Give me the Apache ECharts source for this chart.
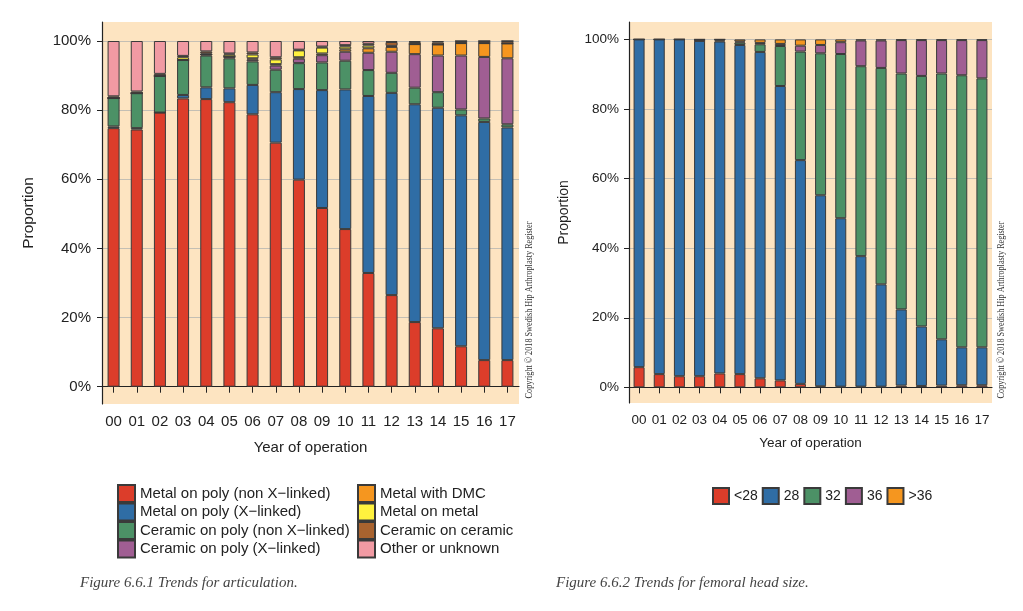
<!DOCTYPE html>
<html>
<head>
<meta charset="utf-8">
<script src="https://cdn.jsdelivr.net/npm/echarts/dist/echarts.min.js"></script>
<style>
html,body{margin:0;padding:0;background:#fff;}
#chart{width:1023px;height:611px;}
</style>
</head>
<body>
<div id="chart"></div>
<script>
// ---- Data ----
const years = ['00','01','02','03','04','05','06','07','08','09','10','11','12','13','14','15','16','17'];
const yTicks = [0, 20, 40, 60, 80, 100];

// Figure 6.6.1 – articulation (percent)
const articulationNames = ['Metal on poly (non X\u2212linked)','Metal on poly (X\u2212linked)','Ceramic on poly (non X\u2212linked)','Ceramic on poly (X\u2212linked)','Metal with DMC','Metal on metal','Ceramic on ceramic','Other or unknown'];
const metalPolyNonX   = [74.8,74.4,79.3,83.4,83.2,82.3,78.8,70.6,59.9,51.7,45.6,32.9,26.5,18.7,16.9,11.7,7.7,7.7];
const metalPolyX      = [0.5,0.4,0.0,1.0,3.4,4.0,8.5,14.6,26.2,34.1,40.4,51.2,58.5,63.0,63.8,66.8,68.9,67.3];
const ceramicPolyNonX = [8.2,10.1,10.6,10.1,9.2,8.7,6.8,6.5,7.5,8.0,8.3,7.5,5.8,4.8,4.5,1.7,1.0,0.9];
const ceramicPolyX    = [0,0,0,0,0.3,0.5,0.5,1.2,1.3,2.1,2.6,5.0,6.1,9.7,10.6,15.6,17.8,19.1];
const metalDMC        = [0,0,0,0,0,0,0.4,0.4,0.4,0.5,0.7,1.3,1.4,2.9,3.2,3.6,4.0,4.3];
const metalMetal      = [0,0,0,0.8,0.3,0.6,1.1,1.4,2.0,1.7,0.8,0.8,0.3,0,0,0,0,0];
const ceramicCeramic  = [0.5,0.5,0.6,0.4,0.6,0.3,0.6,0.6,0.2,0.3,0.4,0.5,1.1,0.6,0.6,0.6,0.6,0.7];
const otherUnknown    = [16.0,14.6,9.5,4.3,3.0,3.6,3.3,4.7,2.5,1.6,1.2,0.8,0.3,0.3,0.4,0,0,0];

// Figure 6.6.2 – femoral head size (percent)
const headNames = ['<28','28','32','36','>36'];
const headLt28 = [5.8,3.8,3.2,3.2,4.0,3.8,2.6,2.0,1.0,0.3,0.2,0.2,0.2,0.5,0.4,0.5,0.6,0.6];
const head28   = [94.2,96.2,96.8,96.4,95.4,94.6,93.8,84.6,64.3,54.9,48.4,37.5,29.4,21.9,17.1,13.3,10.9,10.9];
const head32   = [0,0,0,0,0.3,0.7,2.2,11.5,31.2,40.8,47.2,54.6,62.2,67.8,72.0,76.4,78.2,77.3];
const head36   = [0,0,0,0.4,0.3,0.3,0.4,0.6,1.7,2.4,3.4,7.4,7.9,9.6,10.3,9.6,10.1,11.0];
const headGt36 = [0,0,0,0,0,0.6,1.0,1.3,1.8,1.6,0.8,0.3,0.3,0.2,0.2,0.2,0.2,0.2];

const captions = ['Figure 6.6.1 Trends for articulation.','Figure 6.6.2 Trends for femoral head size.'];
const copyrightText = 'Copyright \u00a9 2018 Swedish Hip Arthroplasty Register';

// ---- Style ----
const C = {red:'#DC3D2A', blue:'#2F6DA5', green:'#4C9166', purple:'#A05E93', orange:'#F5961F', yellow:'#FFF23E', brown:'#A9632F', pink:'#F19AA3'};
const articulationColors = [C.red,C.blue,C.green,C.purple,C.orange,C.yellow,C.brown,C.pink];
const headColors = [C.red,C.blue,C.green,C.purple,C.orange];
const BG = '#FDE4C1';
const FONT = '"Liberation Sans", Arial, Helvetica, sans-serif';
const INK = '#222';

const articulationData = [metalPolyNonX,metalPolyX,ceramicPolyNonX,ceramicPolyX,metalDMC,metalMetal,ceramicCeramic,otherUnknown];
const headData = [headLt28,head28,head32,head36,headGt36];

function yAxisCfg(gridIndex, fs, margin, nameGap, min, max){
  return {
    type:'value', gridIndex, min, max,
    name:'Proportion', nameLocation:'middle', nameGap, nameRotate:90,
    nameTextStyle:{fontFamily:FONT, fontSize:fs+0.5, color:INK},
    axisLine:{show:true, lineStyle:{color:INK, width:1.2}},
    axisTick:{show:true, length:5, customValues:yTicks, lineStyle:{color:INK, width:1}},
    axisLabel:{customValues:yTicks, formatter:v=>v+'%', fontFamily:FONT, fontSize:fs, color:INK, margin},
    splitLine:{show:true, lineStyle:{color:'#c4bfb4', width:1}}
  };
}
function xAxisCfg(gridIndex, fs, nameGap){
  return {
    type:'category', gridIndex, data:years,
    name:'Year of operation', nameLocation:'middle', nameGap,
    nameTextStyle:{fontFamily:FONT, fontSize:fs, color:INK},
    axisLine:{show:true, lineStyle:{color:INK, width:1.2}},
    axisTick:{show:true, alignWithLabel:true, length:6, lineStyle:{color:INK, width:1}},
    axisLabel:{fontFamily:FONT, fontSize:fs, color:INK, margin:10, interval:0},
    splitLine:{show:false}
  };
}

const series = [];
articulationNames.forEach((n,i)=>{
  series.push({type:'bar', name:n, stack:'art', xAxisIndex:0, yAxisIndex:0, data:articulationData[i],
    barWidth:12, itemStyle:{color:articulationColors[i], borderColor:'#3a3a3a', borderWidth:1}});
});
headNames.forEach((n,i)=>{
  series.push({type:'bar', name:n, stack:'head', xAxisIndex:1, yAxisIndex:1, data:headData[i],
    barWidth:11, itemStyle:{color:headColors[i], borderColor:'#3a3a3a', borderWidth:1}});
});

const legendText = {fontFamily:FONT, fontSize:15, color:INK, lineHeight:16};
const option = {
  animation:false,
  backgroundColor:'#fff',
  grid:[
    {left:102, top:22, width:417, height:382, show:true, backgroundColor:BG, borderWidth:0},
    {left:629, top:22, width:363, height:381, show:true, backgroundColor:BG, borderWidth:0}
  ],
  xAxis:[xAxisCfg(0,15,36), xAxisCfg(1,13.5,33)],
  yAxis:[yAxisCfg(0,15,11,65,-5,105.5), yAxisCfg(1,13.5,10,58,-4.5,105)],
  legend:[
    {orient:'vertical', left:117, top:484, padding:0, itemWidth:17, itemHeight:17, itemGap:-0.5, icon:'rect',
     data:articulationNames.slice(0,4), textStyle:legendText, selectedMode:false},
    {orient:'vertical', left:357, top:484, padding:0, itemWidth:17, itemHeight:17, itemGap:-0.5, icon:'rect',
     data:articulationNames.slice(4), textStyle:legendText, selectedMode:false},
    {orient:'horizontal', left:712, top:487, padding:0, itemWidth:16, itemHeight:16, itemGap:4, icon:'rect',
     data:headNames, textStyle:{fontFamily:FONT, fontSize:14, color:INK}, selectedMode:false}
  ],
  graphic:[
    {type:'text', x:80, y:583, silent:true,
     style:{text:captions[0], font:'italic 15px "Liberation Serif", "Times New Roman", serif', fill:'#444', textVerticalAlign:'middle'}},
    {type:'text', x:556, y:583, silent:true,
     style:{text:captions[1], font:'italic 15px "Liberation Serif", "Times New Roman", serif', fill:'#444', textVerticalAlign:'middle'}},
    {type:'text', x:529, y:310, rotation:Math.PI/2, scaleX:0.78, silent:true,
     style:{text:copyrightText, font:'10.5px "Liberation Serif", serif', fill:'#333', textAlign:'center', textVerticalAlign:'middle'}},
    {type:'text', x:1001, y:310, rotation:Math.PI/2, scaleX:0.78, silent:true,
     style:{text:copyrightText, font:'10.5px "Liberation Serif", serif', fill:'#333', textAlign:'center', textVerticalAlign:'middle'}}
  ],
  series
};
const chart = echarts.init(document.getElementById('chart'), null, {renderer:'canvas'});
chart.setOption(option);
</script>
</body>
</html>
